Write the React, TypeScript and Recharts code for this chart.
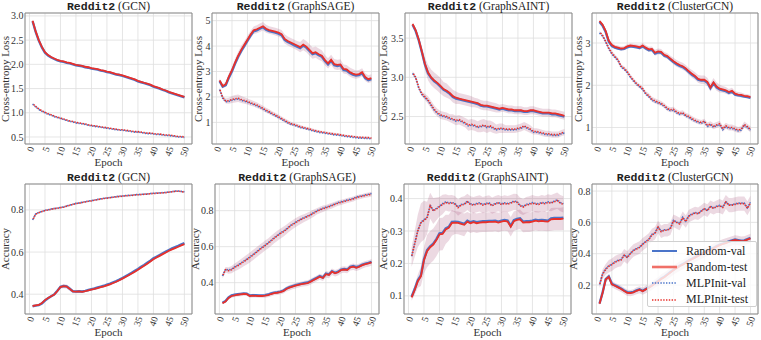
import React from 'react';
import { ComposedChart, Line, Area, XAxis, YAxis, CartesianGrid, ReferenceArea } from 'recharts';

const epochs = [1,2,3,4,5,6,7,8,9,10,11,12,13,14,15,16,17,18,19,20,21,22,23,24,25,26,27,28,29,30,31,32,33,34,35,36,37,38,39,40,41,42,43,44,45,46,47,48,49,50];
const xTicks = [0,5,10,15,20,25,30,35,40,45,50];
const xDomain: [number, number] = [-1.45, 52.45];

// ---- Top row: Cross-entropy loss ----
// GCN
const gcnLossRandTest = [2.90,2.68,2.50,2.36,2.25,2.19,2.15,2.12,2.09,2.07,2.06,2.04,2.03,2.01,1.99,1.98,1.97,1.95,1.94,1.92,1.91,1.90,1.88,1.87,1.85,1.84,1.82,1.80,1.79,1.77,1.75,1.73,1.71,1.69,1.66,1.64,1.62,1.60,1.58,1.55,1.53,1.51,1.48,1.46,1.43,1.41,1.39,1.37,1.35,1.33];
const gcnLossRandVal = [2.89,2.67,2.49,2.35,2.24,2.18,2.14,2.11,2.08,2.06,2.05,2.03,2.02,2.00,1.98,1.97,1.96,1.94,1.93,1.91,1.90,1.89,1.87,1.86,1.84,1.83,1.81,1.79,1.78,1.76,1.74,1.72,1.70,1.68,1.65,1.63,1.61,1.59,1.57,1.54,1.52,1.50,1.47,1.45,1.42,1.40,1.38,1.36,1.34,1.32];
const gcnLossRandStd = [0.01,0.01,0.01,0.01,0.01,0.01,0.01,0.01,0.01,0.01,0.01,0.01,0.01,0.01,0.01,0.01,0.01,0.01,0.01,0.01,0.01,0.01,0.01,0.01,0.01,0.01,0.01,0.01,0.01,0.01,0.01,0.01,0.01,0.01,0.01,0.01,0.01,0.01,0.01,0.01,0.01,0.01,0.01,0.01,0.01,0.01,0.01,0.01,0.01,0.01];
const gcnLossMlpTest = [1.19,1.13,1.08,1.04,1.01,0.98,0.96,0.93,0.91,0.89,0.87,0.85,0.83,0.82,0.80,0.79,0.78,0.77,0.75,0.74,0.73,0.72,0.71,0.70,0.69,0.68,0.67,0.66,0.65,0.65,0.64,0.63,0.62,0.61,0.61,0.60,0.59,0.58,0.58,0.57,0.56,0.56,0.55,0.54,0.54,0.53,0.52,0.51,0.51,0.50];
const gcnLossMlpVal = [1.18,1.12,1.07,1.03,1.00,0.97,0.95,0.92,0.90,0.88,0.86,0.84,0.82,0.81,0.79,0.78,0.77,0.76,0.74,0.73,0.72,0.71,0.70,0.69,0.68,0.67,0.66,0.65,0.64,0.64,0.63,0.62,0.61,0.60,0.60,0.59,0.58,0.57,0.57,0.56,0.55,0.55,0.54,0.53,0.53,0.52,0.51,0.50,0.50,0.49];
const gcnLossMlpStd = [0.01,0.01,0.01,0.01,0.01,0.01,0.01,0.01,0.01,0.01,0.01,0.01,0.01,0.01,0.01,0.01,0.01,0.01,0.01,0.01,0.01,0.01,0.01,0.01,0.01,0.01,0.01,0.01,0.01,0.01,0.01,0.01,0.01,0.01,0.01,0.01,0.01,0.01,0.01,0.01,0.01,0.01,0.01,0.01,0.01,0.01,0.01,0.01,0.01,0.01];

// GraphSAGE
const sageLossRandTest = [2.65,2.43,2.50,2.80,3.05,3.35,3.62,3.85,4.05,4.25,4.45,4.62,4.66,4.72,4.78,4.68,4.63,4.60,4.57,4.53,4.47,4.28,4.20,4.14,4.08,4.02,3.96,4.06,3.98,3.85,3.72,3.76,3.68,3.62,3.45,3.32,3.46,3.29,3.26,3.28,3.10,3.08,2.98,2.92,2.88,2.90,2.97,2.78,2.70,2.74];
const sageLossRandVal = [2.62,2.40,2.46,2.76,3.01,3.31,3.58,3.81,4.01,4.21,4.41,4.58,4.62,4.68,4.74,4.64,4.59,4.56,4.53,4.49,4.43,4.24,4.16,4.10,4.04,3.98,3.92,4.02,3.94,3.81,3.68,3.72,3.64,3.58,3.41,3.28,3.42,3.25,3.22,3.24,3.06,3.04,2.94,2.88,2.84,2.86,2.93,2.74,2.66,2.70];
const sageLossRandStd = [0.08,0.08,0.1,0.12,0.14,0.15,0.16,0.16,0.15,0.15,0.15,0.15,0.16,0.17,0.17,0.16,0.15,0.15,0.15,0.15,0.16,0.18,0.18,0.18,0.18,0.18,0.2,0.22,0.22,0.22,0.22,0.22,0.22,0.22,0.2,0.2,0.2,0.2,0.2,0.2,0.18,0.18,0.18,0.18,0.16,0.16,0.16,0.15,0.15,0.15];
const sageLossMlpTest = [2.32,1.98,1.84,1.85,1.90,1.93,1.95,1.90,1.86,1.82,1.77,1.73,1.68,1.62,1.55,1.48,1.42,1.35,1.29,1.22,1.15,1.08,1.01,0.95,0.92,0.88,0.83,0.80,0.77,0.74,0.70,0.67,0.64,0.62,0.60,0.58,0.56,0.54,0.53,0.51,0.49,0.47,0.46,0.44,0.43,0.41,0.41,0.40,0.40,0.38];
const sageLossMlpVal = [2.29,1.95,1.81,1.82,1.87,1.90,1.92,1.87,1.83,1.79,1.74,1.70,1.65,1.59,1.52,1.45,1.39,1.32,1.26,1.19,1.12,1.05,0.98,0.92,0.89,0.85,0.80,0.77,0.74,0.71,0.67,0.64,0.61,0.59,0.57,0.55,0.53,0.51,0.50,0.48,0.46,0.44,0.43,0.41,0.40,0.38,0.38,0.37,0.37,0.35];
const sageLossMlpStd = [0.06,0.08,0.1,0.12,0.14,0.15,0.15,0.14,0.13,0.12,0.12,0.11,0.11,0.1,0.1,0.1,0.1,0.09,0.09,0.09,0.08,0.08,0.08,0.07,0.07,0.07,0.07,0.06,0.06,0.06,0.06,0.06,0.05,0.05,0.05,0.05,0.05,0.05,0.05,0.05,0.04,0.04,0.04,0.04,0.04,0.04,0.04,0.04,0.04,0.04];

// GraphSAINT
const saintLossRandTest = [3.68,3.60,3.48,3.33,3.17,3.06,3.00,2.96,2.93,2.89,2.85,2.83,2.80,2.76,2.74,2.73,2.72,2.71,2.70,2.69,2.68,2.67,2.65,2.64,2.64,2.63,2.62,2.61,2.60,2.61,2.60,2.59,2.59,2.58,2.58,2.58,2.57,2.57,2.58,2.58,2.57,2.56,2.55,2.55,2.55,2.54,2.54,2.53,2.52,2.51];
const saintLossRandVal = [3.67,3.59,3.47,3.32,3.16,3.05,2.99,2.95,2.92,2.88,2.84,2.82,2.79,2.75,2.73,2.72,2.71,2.70,2.69,2.68,2.67,2.66,2.64,2.63,2.63,2.62,2.61,2.60,2.59,2.60,2.59,2.58,2.58,2.57,2.57,2.57,2.56,2.56,2.57,2.57,2.56,2.55,2.54,2.54,2.54,2.53,2.53,2.52,2.51,2.50];
const saintLossRandStd = [0.02,0.03,0.04,0.06,0.08,0.1,0.1,0.1,0.1,0.1,0.09,0.09,0.08,0.08,0.08,0.07,0.07,0.07,0.07,0.07,0.06,0.06,0.06,0.06,0.06,0.06,0.06,0.06,0.05,0.05,0.05,0.05,0.05,0.05,0.05,0.05,0.05,0.05,0.05,0.05,0.05,0.05,0.05,0.05,0.05,0.05,0.05,0.05,0.05,0.05];
const saintLossMlpTest = [3.06,3.00,2.87,2.79,2.75,2.71,2.65,2.59,2.55,2.52,2.51,2.50,2.48,2.47,2.45,2.46,2.44,2.42,2.39,2.40,2.39,2.37,2.38,2.39,2.37,2.38,2.36,2.34,2.35,2.35,2.34,2.34,2.34,2.34,2.35,2.36,2.38,2.36,2.34,2.31,2.31,2.30,2.29,2.28,2.28,2.27,2.27,2.27,2.29,2.30];
const saintLossMlpVal = [3.05,2.99,2.86,2.78,2.74,2.70,2.64,2.58,2.54,2.51,2.50,2.49,2.47,2.46,2.44,2.45,2.43,2.41,2.38,2.39,2.38,2.36,2.37,2.38,2.36,2.37,2.35,2.33,2.34,2.34,2.33,2.33,2.33,2.33,2.34,2.35,2.37,2.35,2.33,2.30,2.30,2.29,2.28,2.27,2.27,2.26,2.26,2.26,2.28,2.29];
const saintLossMlpStd = [0.02,0.02,0.03,0.03,0.04,0.05,0.05,0.05,0.05,0.05,0.05,0.05,0.05,0.06,0.06,0.06,0.06,0.06,0.07,0.07,0.07,0.07,0.08,0.08,0.08,0.07,0.07,0.06,0.06,0.06,0.05,0.05,0.05,0.05,0.05,0.05,0.05,0.05,0.05,0.04,0.04,0.04,0.04,0.04,0.04,0.04,0.04,0.04,0.04,0.04];

// ClusterGCN
const clusterLossRandTest = [3.52,3.43,3.28,3.05,2.95,2.91,2.89,2.87,2.88,2.92,2.94,2.93,2.92,2.90,2.94,2.89,2.85,2.86,2.77,2.80,2.79,2.72,2.69,2.63,2.57,2.52,2.48,2.45,2.40,2.33,2.27,2.22,2.15,2.13,2.13,2.08,1.95,2.07,1.97,1.92,1.90,1.88,1.84,1.87,1.80,1.78,1.77,1.75,1.74,1.72];
const clusterLossRandVal = [3.50,3.41,3.26,3.03,2.93,2.89,2.87,2.85,2.86,2.90,2.92,2.91,2.90,2.88,2.92,2.87,2.83,2.84,2.75,2.78,2.77,2.70,2.67,2.61,2.55,2.50,2.46,2.43,2.38,2.31,2.25,2.20,2.13,2.11,2.11,2.06,1.93,2.05,1.95,1.90,1.88,1.86,1.82,1.85,1.78,1.76,1.75,1.73,1.72,1.70];
const clusterLossRandStd = [0.03,0.04,0.05,0.05,0.05,0.05,0.05,0.05,0.05,0.05,0.05,0.05,0.05,0.06,0.06,0.06,0.06,0.06,0.07,0.07,0.07,0.07,0.07,0.07,0.08,0.08,0.08,0.08,0.08,0.08,0.09,0.09,0.09,0.1,0.1,0.1,0.1,0.1,0.1,0.09,0.08,0.08,0.07,0.07,0.06,0.06,0.06,0.05,0.05,0.05];
const clusterLossMlpTest = [3.26,3.18,3.04,2.88,2.76,2.68,2.60,2.45,2.40,2.32,2.21,2.12,2.04,1.98,1.92,1.81,1.75,1.67,1.63,1.60,1.57,1.52,1.45,1.42,1.43,1.37,1.33,1.35,1.29,1.26,1.21,1.17,1.14,1.12,1.15,1.05,1.08,1.03,1.06,1.09,0.97,1.04,1.00,1.00,0.97,0.94,0.96,1.07,1.02,0.96];
const clusterLossMlpVal = [3.24,3.16,3.02,2.86,2.74,2.66,2.58,2.43,2.38,2.30,2.19,2.10,2.02,1.96,1.90,1.79,1.73,1.65,1.61,1.58,1.55,1.50,1.43,1.40,1.41,1.35,1.31,1.33,1.27,1.24,1.19,1.15,1.12,1.10,1.13,1.03,1.06,1.01,1.04,1.07,0.95,1.02,0.98,0.98,0.95,0.92,0.94,1.05,1.00,0.94];
const clusterLossMlpStd = [0.03,0.03,0.04,0.04,0.05,0.05,0.05,0.05,0.05,0.05,0.05,0.05,0.05,0.05,0.05,0.05,0.06,0.06,0.06,0.06,0.06,0.06,0.06,0.06,0.06,0.06,0.06,0.06,0.06,0.06,0.06,0.06,0.06,0.06,0.06,0.07,0.07,0.07,0.07,0.07,0.07,0.07,0.07,0.07,0.07,0.07,0.07,0.07,0.07,0.07];

// ---- Bottom row: Accuracy ----
const gcnAccRandTest = [0.344,0.347,0.349,0.358,0.372,0.382,0.390,0.398,0.415,0.434,0.438,0.436,0.425,0.413,0.412,0.413,0.411,0.414,0.418,0.422,0.425,0.429,0.433,0.437,0.442,0.447,0.453,0.459,0.466,0.474,0.482,0.490,0.498,0.507,0.516,0.526,0.535,0.545,0.555,0.566,0.574,0.582,0.590,0.598,0.606,0.613,0.619,0.625,0.632,0.638];
const gcnAccRandVal = [0.343,0.346,0.348,0.356,0.370,0.381,0.390,0.399,0.416,0.435,0.439,0.437,0.426,0.414,0.413,0.414,0.413,0.416,0.420,0.424,0.427,0.432,0.436,0.440,0.445,0.450,0.456,0.462,0.469,0.477,0.485,0.493,0.502,0.511,0.520,0.530,0.539,0.549,0.559,0.570,0.578,0.586,0.594,0.602,0.610,0.617,0.623,0.629,0.636,0.642];
const gcnAccRandStd = [0.004,0.004,0.004,0.004,0.004,0.005,0.005,0.006,0.007,0.008,0.01,0.01,0.01,0.008,0.006,0.005,0.005,0.005,0.005,0.005,0.005,0.005,0.005,0.005,0.005,0.005,0.005,0.005,0.005,0.005,0.005,0.005,0.005,0.005,0.005,0.005,0.005,0.005,0.005,0.005,0.005,0.005,0.005,0.005,0.005,0.005,0.005,0.005,0.005,0.005];
const gcnAccMlpTest = [0.752,0.780,0.787,0.792,0.797,0.800,0.803,0.806,0.808,0.811,0.813,0.818,0.822,0.826,0.830,0.832,0.835,0.838,0.841,0.843,0.846,0.849,0.852,0.854,0.856,0.858,0.860,0.862,0.864,0.865,0.867,0.868,0.869,0.871,0.872,0.873,0.874,0.875,0.877,0.878,0.879,0.880,0.881,0.882,0.884,0.886,0.888,0.889,0.887,0.885];
const gcnAccMlpVal = [0.753,0.781,0.788,0.793,0.798,0.801,0.804,0.807,0.809,0.812,0.814,0.819,0.823,0.827,0.831,0.833,0.836,0.839,0.842,0.844,0.847,0.850,0.853,0.855,0.857,0.859,0.861,0.863,0.865,0.866,0.868,0.869,0.870,0.872,0.873,0.874,0.875,0.876,0.878,0.879,0.880,0.881,0.882,0.883,0.885,0.887,0.889,0.890,0.888,0.886];
const gcnAccMlpStd = [0.003,0.003,0.003,0.003,0.003,0.003,0.003,0.003,0.003,0.003,0.003,0.003,0.003,0.003,0.003,0.003,0.003,0.003,0.003,0.003,0.003,0.003,0.003,0.003,0.003,0.003,0.003,0.003,0.003,0.003,0.003,0.003,0.003,0.003,0.003,0.003,0.003,0.003,0.003,0.003,0.003,0.003,0.003,0.003,0.003,0.003,0.003,0.003,0.003,0.003];

const sageAccRandTest = [0.286,0.295,0.315,0.326,0.330,0.333,0.335,0.337,0.336,0.326,0.328,0.327,0.326,0.326,0.328,0.331,0.337,0.342,0.344,0.347,0.353,0.365,0.372,0.378,0.383,0.388,0.392,0.395,0.398,0.406,0.415,0.424,0.433,0.426,0.447,0.443,0.461,0.452,0.458,0.470,0.473,0.470,0.485,0.489,0.483,0.489,0.497,0.503,0.507,0.513];
const sageAccRandVal = [0.288,0.298,0.318,0.329,0.333,0.336,0.338,0.340,0.339,0.329,0.331,0.330,0.329,0.329,0.331,0.334,0.340,0.345,0.347,0.350,0.356,0.368,0.375,0.381,0.386,0.391,0.395,0.398,0.401,0.409,0.418,0.427,0.436,0.429,0.450,0.446,0.464,0.455,0.461,0.473,0.476,0.473,0.488,0.492,0.486,0.492,0.500,0.506,0.510,0.516];
const sageAccRandStd = [0.005,0.006,0.008,0.01,0.01,0.01,0.01,0.01,0.01,0.01,0.01,0.01,0.01,0.01,0.012,0.012,0.012,0.012,0.012,0.012,0.013,0.014,0.015,0.015,0.015,0.015,0.015,0.015,0.016,0.016,0.016,0.016,0.017,0.017,0.018,0.018,0.018,0.018,0.018,0.018,0.018,0.018,0.018,0.018,0.018,0.018,0.018,0.018,0.018,0.018];
const sageAccMlpTest = [0.435,0.472,0.467,0.472,0.485,0.494,0.505,0.517,0.528,0.540,0.553,0.566,0.580,0.593,0.606,0.618,0.632,0.647,0.660,0.672,0.683,0.695,0.710,0.722,0.733,0.743,0.752,0.760,0.768,0.776,0.786,0.796,0.804,0.810,0.816,0.822,0.828,0.835,0.842,0.846,0.851,0.856,0.860,0.865,0.872,0.877,0.880,0.885,0.888,0.892];
const sageAccMlpVal = [0.438,0.475,0.470,0.475,0.488,0.497,0.508,0.520,0.531,0.543,0.556,0.569,0.583,0.596,0.609,0.621,0.635,0.650,0.663,0.675,0.686,0.698,0.713,0.725,0.736,0.746,0.755,0.763,0.771,0.779,0.789,0.799,0.807,0.813,0.819,0.825,0.831,0.838,0.845,0.849,0.854,0.859,0.863,0.868,0.875,0.880,0.883,0.888,0.891,0.895];
const sageAccMlpStd = [0.01,0.015,0.018,0.02,0.022,0.024,0.025,0.026,0.027,0.028,0.028,0.028,0.028,0.028,0.028,0.028,0.028,0.028,0.028,0.028,0.028,0.026,0.026,0.025,0.025,0.024,0.024,0.022,0.022,0.02,0.02,0.018,0.018,0.018,0.016,0.016,0.016,0.015,0.015,0.015,0.014,0.014,0.014,0.014,0.013,0.013,0.013,0.013,0.013,0.013];

const saintAccRandTest = [0.095,0.118,0.145,0.160,0.210,0.238,0.250,0.258,0.272,0.290,0.291,0.305,0.310,0.325,0.326,0.325,0.322,0.319,0.329,0.324,0.327,0.324,0.326,0.327,0.327,0.328,0.328,0.329,0.326,0.329,0.331,0.329,0.313,0.330,0.334,0.336,0.326,0.327,0.327,0.329,0.332,0.330,0.331,0.330,0.329,0.336,0.337,0.337,0.337,0.338];
const saintAccRandVal = [0.097,0.121,0.148,0.163,0.213,0.241,0.253,0.261,0.275,0.293,0.294,0.308,0.313,0.328,0.329,0.328,0.325,0.322,0.332,0.327,0.330,0.327,0.329,0.330,0.330,0.331,0.331,0.332,0.329,0.332,0.334,0.332,0.316,0.333,0.337,0.339,0.329,0.330,0.330,0.332,0.335,0.333,0.334,0.333,0.332,0.339,0.340,0.340,0.340,0.341];
const saintAccRandStd = [0.01,0.015,0.02,0.03,0.04,0.05,0.05,0.05,0.05,0.05,0.05,0.045,0.04,0.04,0.035,0.035,0.035,0.035,0.03,0.03,0.03,0.03,0.03,0.03,0.03,0.03,0.03,0.03,0.03,0.03,0.03,0.03,0.03,0.03,0.03,0.03,0.03,0.03,0.03,0.03,0.03,0.03,0.03,0.03,0.03,0.035,0.035,0.035,0.035,0.035];
const saintAccMlpTest = [0.220,0.260,0.300,0.325,0.333,0.340,0.378,0.362,0.368,0.375,0.382,0.388,0.385,0.386,0.383,0.372,0.380,0.382,0.390,0.382,0.380,0.383,0.385,0.380,0.383,0.385,0.378,0.383,0.386,0.382,0.385,0.383,0.386,0.390,0.389,0.378,0.374,0.380,0.382,0.386,0.383,0.382,0.386,0.384,0.388,0.386,0.390,0.394,0.386,0.382];
const saintAccMlpVal = [0.222,0.262,0.302,0.327,0.335,0.342,0.380,0.364,0.370,0.377,0.384,0.390,0.387,0.388,0.385,0.374,0.382,0.384,0.392,0.384,0.382,0.385,0.387,0.382,0.385,0.387,0.380,0.385,0.388,0.384,0.387,0.385,0.388,0.392,0.391,0.380,0.376,0.382,0.384,0.388,0.385,0.384,0.388,0.386,0.390,0.388,0.392,0.396,0.388,0.384];
const saintAccMlpStd = [0.03,0.04,0.05,0.06,0.06,0.05,0.04,0.04,0.035,0.03,0.03,0.025,0.025,0.025,0.025,0.025,0.025,0.025,0.025,0.025,0.025,0.025,0.025,0.025,0.025,0.025,0.025,0.025,0.025,0.025,0.025,0.025,0.025,0.025,0.025,0.025,0.025,0.025,0.025,0.025,0.025,0.025,0.025,0.025,0.025,0.025,0.025,0.025,0.025,0.025];

const clusterAccRandTest = [0.080,0.150,0.235,0.252,0.205,0.195,0.185,0.175,0.162,0.150,0.149,0.153,0.163,0.170,0.160,0.172,0.182,0.195,0.210,0.222,0.238,0.250,0.265,0.280,0.295,0.308,0.320,0.330,0.342,0.355,0.365,0.375,0.386,0.396,0.405,0.415,0.425,0.435,0.445,0.455,0.462,0.468,0.475,0.482,0.488,0.484,0.480,0.482,0.490,0.498];
const clusterAccRandVal = [0.082,0.153,0.238,0.255,0.208,0.198,0.188,0.178,0.165,0.153,0.152,0.156,0.166,0.173,0.163,0.175,0.185,0.198,0.213,0.225,0.241,0.253,0.268,0.283,0.298,0.311,0.323,0.333,0.345,0.358,0.368,0.378,0.389,0.399,0.408,0.418,0.428,0.438,0.448,0.458,0.465,0.471,0.478,0.485,0.491,0.487,0.483,0.485,0.493,0.501];
const clusterAccRandStd = [0.01,0.012,0.015,0.018,0.02,0.02,0.02,0.02,0.02,0.02,0.02,0.02,0.022,0.022,0.022,0.024,0.025,0.026,0.027,0.028,0.03,0.03,0.03,0.03,0.03,0.03,0.03,0.03,0.03,0.03,0.03,0.03,0.03,0.03,0.03,0.03,0.03,0.03,0.03,0.03,0.03,0.03,0.03,0.03,0.03,0.03,0.03,0.03,0.03,0.03];
const clusterAccMlpTest = [0.200,0.270,0.300,0.320,0.330,0.345,0.355,0.360,0.390,0.375,0.400,0.420,0.430,0.440,0.460,0.475,0.490,0.520,0.530,0.570,0.540,0.550,0.550,0.560,0.610,0.600,0.590,0.630,0.605,0.640,0.650,0.660,0.655,0.670,0.685,0.675,0.700,0.690,0.700,0.705,0.695,0.730,0.710,0.710,0.715,0.720,0.720,0.720,0.690,0.725];
const clusterAccMlpVal = [0.203,0.273,0.303,0.323,0.333,0.348,0.358,0.363,0.393,0.378,0.403,0.423,0.433,0.443,0.463,0.478,0.493,0.523,0.533,0.573,0.543,0.553,0.553,0.563,0.613,0.603,0.593,0.633,0.608,0.643,0.653,0.663,0.658,0.673,0.688,0.678,0.703,0.693,0.703,0.708,0.698,0.733,0.713,0.713,0.718,0.723,0.723,0.723,0.693,0.728];
const clusterAccMlpStd = [0.02,0.03,0.035,0.04,0.04,0.04,0.04,0.04,0.04,0.04,0.04,0.04,0.04,0.04,0.04,0.04,0.04,0.04,0.04,0.04,0.04,0.04,0.04,0.04,0.04,0.04,0.04,0.04,0.04,0.04,0.04,0.04,0.04,0.04,0.04,0.04,0.04,0.04,0.04,0.045,0.045,0.045,0.045,0.045,0.045,0.045,0.045,0.045,0.045,0.045];

// Tick labels
const ticksGcnLoss = [0.5, 1.0, 1.5, 2.0, 2.5, 3.0];
const ticksSageLoss = [1, 2, 3, 4, 5];
const ticksSaintLoss = [2.5, 3.0, 3.5];
const ticksClusterLoss = [1, 2, 3];
const ticksGcnAcc = [0.4, 0.6, 0.8];
const ticksSageAcc = [0.4, 0.6, 0.8];
const ticksSaintAcc = [0.1, 0.2, 0.3, 0.4];
const ticksClusterAcc = [0.2, 0.4, 0.6, 0.8];

const methods = ['GCN', 'GraphSAGE', 'GraphSAINT', 'ClusterGCN'];
const legendLabels = ['Random-val', 'Random-test', 'MLPInit-val', 'MLPInit-test'];

const BLUE = '#4a74c9';
const RED = '#e8302a';
const BAND = '#a0406e';
const SERIF = '"Liberation Serif", "DejaVu Serif", serif';
const MONO = '"Liberation Mono", "DejaVu Sans Mono", monospace';

type Panel = {
  method: string; yLabel: string; left: number; top: number; width: number; height: number;
  yDomain: [number, number]; yTicks: number[]; dec: number; yLabelX: number;
  rt: number[]; rv: number[]; rs: number[]; mt: number[]; mv: number[]; ms: number[];
};

const LOSS = 'Cross-entropy Loss';
const ACC = 'Accuracy';

const panels: Panel[] = [
  { method: methods[0], yLabel: LOSS, left: 25, top: 13, width: 167, height: 131, yDomain: [0.355, 3.06], yTicks: ticksGcnLoss, dec: 1, yLabelX: 5,
    rt: gcnLossRandTest, rv: gcnLossRandVal, rs: gcnLossRandStd, mt: gcnLossMlpTest, mv: gcnLossMlpVal, ms: gcnLossMlpStd },
  { method: methods[1], yLabel: LOSS, left: 212, top: 13, width: 167, height: 131, yDomain: [0.15, 5.3], yTicks: ticksSageLoss, dec: 0, yLabelX: 198,
    rt: sageLossRandTest, rv: sageLossRandVal, rs: sageLossRandStd, mt: sageLossMlpTest, mv: sageLossMlpVal, ms: sageLossMlpStd },
  { method: methods[2], yLabel: LOSS, left: 405, top: 13, width: 167, height: 131, yDomain: [2.15, 3.82], yTicks: ticksSaintLoss, dec: 1, yLabelX: 383,
    rt: saintLossRandTest, rv: saintLossRandVal, rs: saintLossRandStd, mt: saintLossMlpTest, mv: saintLossMlpVal, ms: saintLossMlpStd },
  { method: methods[3], yLabel: LOSS, left: 592, top: 13, width: 166, height: 131, yDomain: [0.61, 3.71], yTicks: ticksClusterLoss, dec: 0, yLabelX: 578,
    rt: clusterLossRandTest, rv: clusterLossRandVal, rs: clusterLossRandStd, mt: clusterLossMlpTest, mv: clusterLossMlpVal, ms: clusterLossMlpStd },
  { method: methods[0], yLabel: ACC, left: 25, top: 184, width: 167, height: 130, yDomain: [0.306, 0.923], yTicks: ticksGcnAcc, dec: 1, yLabelX: 5,
    rt: gcnAccRandTest, rv: gcnAccRandVal, rs: gcnAccRandStd, mt: gcnAccMlpTest, mv: gcnAccMlpVal, ms: gcnAccMlpStd },
  { method: methods[1], yLabel: ACC, left: 215, top: 184, width: 164, height: 130, yDomain: [0.226, 0.948], yTicks: ticksSageAcc, dec: 1, yLabelX: 195,
    rt: sageAccRandTest, rv: sageAccRandVal, rs: sageAccRandStd, mt: sageAccMlpTest, mv: sageAccMlpVal, ms: sageAccMlpStd },
  { method: methods[2], yLabel: ACC, left: 404, top: 184, width: 167, height: 130, yDomain: [0.044, 0.445], yTicks: ticksSaintAcc, dec: 1, yLabelX: 383,
    rt: saintAccRandTest, rv: saintAccRandVal, rs: saintAccRandStd, mt: saintAccMlpTest, mv: saintAccMlpVal, ms: saintAccMlpStd },
  { method: methods[3], yLabel: ACC, left: 592, top: 184, width: 166, height: 130, yDomain: [0.015, 0.845], yTicks: ticksClusterAcc, dec: 1, yLabelX: 573,
    rt: clusterAccRandTest, rv: clusterAccRandVal, rs: clusterAccRandStd, mt: clusterAccMlpTest, mv: clusterAccMlpVal, ms: clusterAccMlpStd },
];

const RotTick = (props: any) => {
  const { x, y, payload } = props;
  return (
    <text x={x + 2} y={y} transform={`rotate(-70 ${x + 2} ${y})`} textAnchor="end" dominantBaseline="central"
      fontSize={9.5} fontFamily={SERIF} fill="#333">{payload.value}</text>
  );
};

const PAD_L = 40;
const PAD_T = 13;
const PAD_R = 4;
const PAD_B = 40;

function PanelChart({ p }: { p: Panel }) {
  const data = epochs.map((e, i) => ({
    epoch: e,
    rt: p.rt[i], rv: p.rv[i], mt: p.mt[i], mv: p.mv[i],
    rBand: [p.rt[i] - p.rs[i], p.rt[i] + p.rs[i]],
    mBand: [p.mt[i] - p.ms[i], p.mt[i] + p.ms[i]],
  }));
  return (
    <>
      <div style={{ position: 'absolute', left: p.left - PAD_L, top: p.top - PAD_T }}>
        <ComposedChart width={p.width + PAD_L + PAD_R} height={p.height + PAD_T + PAD_B} data={data}
          margin={{ top: PAD_T, right: PAD_R, bottom: 0, left: 0 }}>
          <CartesianGrid stroke="#dedede" strokeWidth={0.8} />
          <XAxis dataKey="epoch" type="number" domain={xDomain} ticks={xTicks} allowDataOverflow
            height={PAD_B} axisLine={false} tickLine={false} tickSize={0} tickMargin={3} tick={<RotTick />} interval={0} />
          <YAxis type="number" domain={p.yDomain} ticks={p.yTicks} allowDataOverflow width={PAD_L}
            axisLine={false} tickLine={false} tickSize={0} tickMargin={1.5} interval={0}
            tickFormatter={(v: number) => v.toFixed(p.dec)}
            tick={{ fontSize: 10, fontFamily: SERIF, fill: '#333' }} />
          <Area dataKey="rBand" stroke="none" fill={BAND} fillOpacity={0.2} isAnimationActive={false} />
          <Area dataKey="mBand" stroke="none" fill={BAND} fillOpacity={0.2} isAnimationActive={false} />
          <Line dataKey="rv" stroke={BLUE} strokeWidth={2.4} dot={false} isAnimationActive={false} />
          <Line dataKey="rt" stroke={RED} strokeWidth={1.8} dot={false} isAnimationActive={false} />
          <Line dataKey="mv" stroke={BLUE} strokeWidth={1.6} strokeDasharray="1.4 1.4" dot={false} isAnimationActive={false} />
          <Line dataKey="mt" stroke={RED} strokeWidth={1.6} strokeDasharray="1.4 1.4" strokeDashoffset={1.4} dot={false} isAnimationActive={false} />
          <ReferenceArea x1={xDomain[0]} x2={xDomain[1]} y1={p.yDomain[0]} y2={p.yDomain[1]} fill="none" fillOpacity={0}
            stroke="#8a8a8a" strokeWidth={1} ifOverflow="visible" />
        </ComposedChart>
      </div>
      <div style={{ position: 'absolute', left: p.left, width: p.width, top: p.top - 13, textAlign: 'center',
        fontSize: 11.5, lineHeight: '12px', color: '#222', whiteSpace: 'nowrap' }}>
        <span style={{ fontFamily: MONO, fontWeight: 'bold' }}>Reddit2</span>
        <span style={{ fontFamily: SERIF }}> ({p.method})</span>
      </div>
      <div style={{ position: 'absolute', left: p.left, width: p.width, top: p.top + p.height + 12, textAlign: 'center',
        fontSize: 11, lineHeight: '12px', fontFamily: SERIF, color: '#333' }}>Epoch</div>
      <div style={{ position: 'absolute', left: p.yLabelX - 60, width: 120, height: 12, top: p.top + p.height / 2 - 6, textAlign: 'center',
        fontSize: 11, lineHeight: '12px', fontFamily: SERIF, color: '#333', transform: 'rotate(-90deg)', whiteSpace: 'nowrap' }}>{p.yLabel}</div>
    </>
  );
}

function LegendBox() {
  const styles = [
    { color: BLUE, width: 2, dash: undefined as string | undefined },
    { color: '#f07068', width: 2.6, dash: undefined as string | undefined },
    { color: BLUE, width: 1.6, dash: '1.4 1.4' },
    { color: RED, width: 1.6, dash: '1.4 1.4' },
  ];
  return (
    <div style={{ position: 'absolute', left: 647, top: 241, width: 110, height: 66, background: 'rgba(255,255,255,0.8)',
      border: '1px solid #d0d0d0', borderRadius: 2, boxSizing: 'border-box' }}>
      {legendLabels.map((lab, i) => (
        <div key={lab} style={{ position: 'absolute', left: 3, top: 1 + i * 16.2, height: 16, display: 'flex', alignItems: 'center' }}>
          <svg width={28} height={16} style={{ display: 'block' }}>
            <line x1={1} x2={26} y1={8} y2={8} stroke={styles[i].color} strokeWidth={styles[i].width} strokeDasharray={styles[i].dash} />
          </svg>
          <span style={{ marginLeft: 7, fontFamily: SERIF, fontSize: 12, color: '#222', whiteSpace: 'nowrap' }}>{lab}</span>
        </div>
      ))}
    </div>
  );
}

export default function App() {
  return (
    <div style={{ position: 'absolute', left: 0, top: 0, width: 761, height: 340, background: '#fff', overflow: 'hidden' }}>
      {panels.map((p, i) => <PanelChart key={i} p={p} />)}
      <LegendBox />
    </div>
  );
}
